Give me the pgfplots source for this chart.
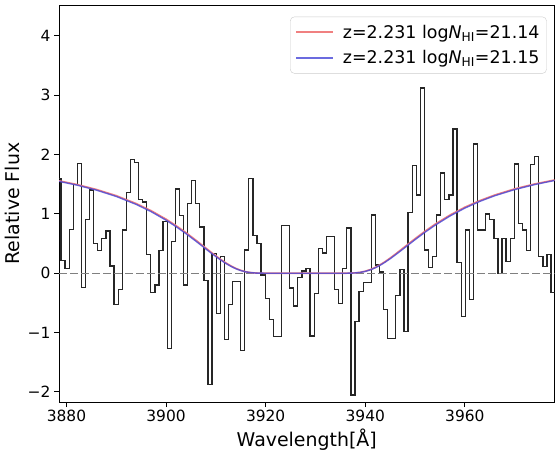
\documentclass[border=0pt]{standalone}
\usepackage{fontspec}
\setmainfont{DejaVu Sans}
\usepackage{pgfplots}
\pgfplotsset{compat=1.18}
\definecolor{mred}{RGB}{240,128,128}
\definecolor{mblue}{RGB}{70,70,215}
\begin{document}
\begin{tikzpicture}
\begin{axis}[
  name=ax,
  scale only axis, width=495.5bp, height=397bp,
  xmin=3878.5, xmax=3978, ymin=-2.17, ymax=4.52,
  axis line style={line width=0.9bp, black},
  xtick={3880,3900,3920,3940,3960}, xticklabels={3880,3900,3920,3940,3960},
  ytick={-2,-1,0,1,2,3,4}, yticklabels={−2,−1,0,1,2,3,4},
  tick align=outside, tick pos=left, major tick length=5bp,
  tick style={line width=0.9bp, black},
  ticklabel style={font=\fontsize{15.5}{18}\selectfont},
  xlabel={Wavelength[Å]}, ylabel={Relative Flux},
  label style={font=\fontsize{19}{22}\selectfont},
  xlabel style={at={(axis description cs:0.5,-0.0957)}, anchor=center},
  ylabel style={at={(axis description cs:-0.0949,0.5)}, anchor=center},
  legend style={at={(axis description cs:1,1)}, anchor=north east,
    xshift=-7.8bp, yshift=-11.7bp, draw=black!20, rounded corners=4bp,
    fill=white, font=\fontsize{17.5}{20}\selectfont,
    inner xsep=5bp, inner ysep=6bp, row sep=7bp,
    /tikz/every odd column/.append style={column sep=7bp}},
  legend cell align=left,
  legend image code/.code={\draw[#1] (0bp,0bp) -- (37bp,0bp);},
]
% observed spectrum (step histogram)
\addplot[const plot mark left, black!85, line width=1.3bp, forget plot] coordinates {
(3878.50,1.60) (3878.90,0.21) (3879.72,0.08) (3880.54,0.74) (3881.36,1.50)
(3882.18,1.85) (3883.00,-0.24) (3883.82,0.90) (3884.64,1.40) (3885.46,0.50)
(3886.28,0.38) (3887.10,0.59) (3887.92,0.71) (3888.74,0.12) (3889.56,-0.53)
(3890.38,-0.28) (3891.20,0.73) (3892.02,1.36) (3892.84,1.92) (3893.66,1.87)
(3894.48,1.24) (3895.30,1.20) (3896.12,0.31) (3896.94,-0.32) (3897.76,-0.20)
(3898.58,0.38) (3899.40,0.87) (3900.22,-1.27) (3901.04,0.53) (3901.86,1.42)
(3902.68,0.97) (3903.50,-0.20) (3904.32,1.18) (3905.14,1.56) (3905.96,1.17)
(3906.78,0.78) (3907.60,-0.12) (3908.42,-1.87) (3909.24,0.33) (3910.06,-0.68)
(3910.88,0.28) (3911.70,-1.12) (3912.52,-0.53) (3913.34,-0.14) (3914.16,-0.14)
(3914.98,-1.30) (3915.80,0.39) (3916.62,1.60) (3917.44,0.63) (3918.26,0.50)
(3919.08,-0.03) (3919.90,-0.42) (3920.72,-0.78) (3921.54,-1.07) (3922.36,-1.07)
(3923.18,0.81) (3924.00,0.81) (3924.82,-0.25) (3925.64,-0.55) (3926.46,-0.07)
(3927.28,0.04) (3928.10,0.08) (3928.92,-1.06) (3929.74,-0.34) (3930.56,0.42)
(3931.38,0.34) (3932.20,0.62) (3933.02,0.62) (3933.84,-0.28) (3934.66,-0.51)
(3935.48,0.08) (3936.30,0.76) (3937.12,-2.05) (3937.94,-0.81) (3938.76,-0.31)
(3939.58,-0.16) (3940.40,-0.16) (3941.22,0.98) (3942.04,0.14) (3942.86,0.02)
(3943.68,-0.61) (3944.50,-1.10) (3945.32,-1.10) (3946.14,-0.37) (3946.96,0.06)
(3947.78,-0.98) (3948.60,1.02) (3949.42,1.81) (3950.24,1.32) (3951.06,3.12)
(3951.88,0.39) (3952.70,0.10) (3953.52,0.28) (3954.34,0.98) (3955.16,1.69)
(3955.98,1.24) (3956.80,1.32) (3957.62,2.43) (3958.44,0.18) (3959.26,-0.73)
(3960.08,0.73) (3960.90,-0.44) (3961.72,2.18) (3962.54,0.73) (3963.36,0.73)
(3964.18,1.00) (3965.00,0.91) (3965.82,0.59) (3966.64,0.00) (3967.46,0.59)
(3968.28,0.20) (3969.10,0.59) (3969.92,1.84) (3970.74,0.84) (3971.56,0.73)
(3972.38,0.38) (3973.20,1.83) (3974.02,1.97) (3974.84,0.28) (3975.66,0.11)
(3976.48,0.31) (3977.30,-0.33) (3978.12,-0.33)
};
% zero line
\addplot[gray, line width=1.4bp, dash pattern=on 7.5bp off 3.5bp, forget plot]
  coordinates {(3878.5,0) (3978,0)};
% model logN=21.14
\addplot[mred, line width=1.6bp] coordinates {
(3878.5,1.557) (3882,1.497) (3886,1.412) (3890,1.307) (3894,1.174) (3897,1.054)
(3900,0.911) (3902,0.802) (3904,0.684) (3906,0.556) (3908,0.424) (3909,0.357)
(3910,0.293) (3911,0.232) (3912,0.175) (3913,0.125) (3914,0.082) (3915,0.049)
(3916,0.025) (3917,0.011) (3918,0.004) (3919,0.001) (3920,0) (3936,0)
(3937,0.002) (3938,0.006) (3939,0.016) (3940,0.034) (3941,0.061) (3942,0.098)
(3943,0.144) (3944,0.197) (3945,0.256) (3946,0.319) (3948,0.451) (3950,0.582)
(3952,0.708) (3954,0.825) (3957,0.980) (3960,1.113) (3963,1.224) (3966,1.318)
(3970,1.422) (3974,1.504) (3978,1.571)
};
\addlegendentry{z=2.231 log\textit{N}\textsubscript{HI}=21.14}
% model logN=21.15
\addplot[mblue, line width=1.4bp, opacity=0.8] coordinates {
(3878.5,1.548) (3882,1.487) (3886,1.401) (3890,1.294) (3894,1.160) (3897,1.038)
(3900,0.894) (3902,0.786) (3904,0.667) (3906,0.540) (3908,0.409) (3909,0.343)
(3910,0.281) (3911,0.221) (3912,0.165) (3913,0.117) (3914,0.076) (3915,0.045)
(3916,0.023) (3917,0.010) (3918,0.003) (3919,0.001) (3920,0) (3936,0)
(3937,0.001) (3938,0.005) (3939,0.014) (3940,0.031) (3941,0.056) (3942,0.091)
(3943,0.135) (3944,0.187) (3945,0.244) (3946,0.306) (3948,0.435) (3950,0.566)
(3952,0.691) (3954,0.808) (3957,0.964) (3960,1.098) (3963,1.211) (3966,1.306)
(3970,1.410) (3974,1.494) (3978,1.563)
};
\addlegendentry{z=2.231 log\textit{N}\textsubscript{HI}=21.15}
\end{axis}
\path (ax.south west) ++(-59bp,-53bp) coordinate (bl);
\path (ax.north east) ++(1.5bp,5bp) coordinate (tr);
\pgfresetboundingbox
\path[use as bounding box] (bl) rectangle (tr);
\end{tikzpicture}
\end{document}
